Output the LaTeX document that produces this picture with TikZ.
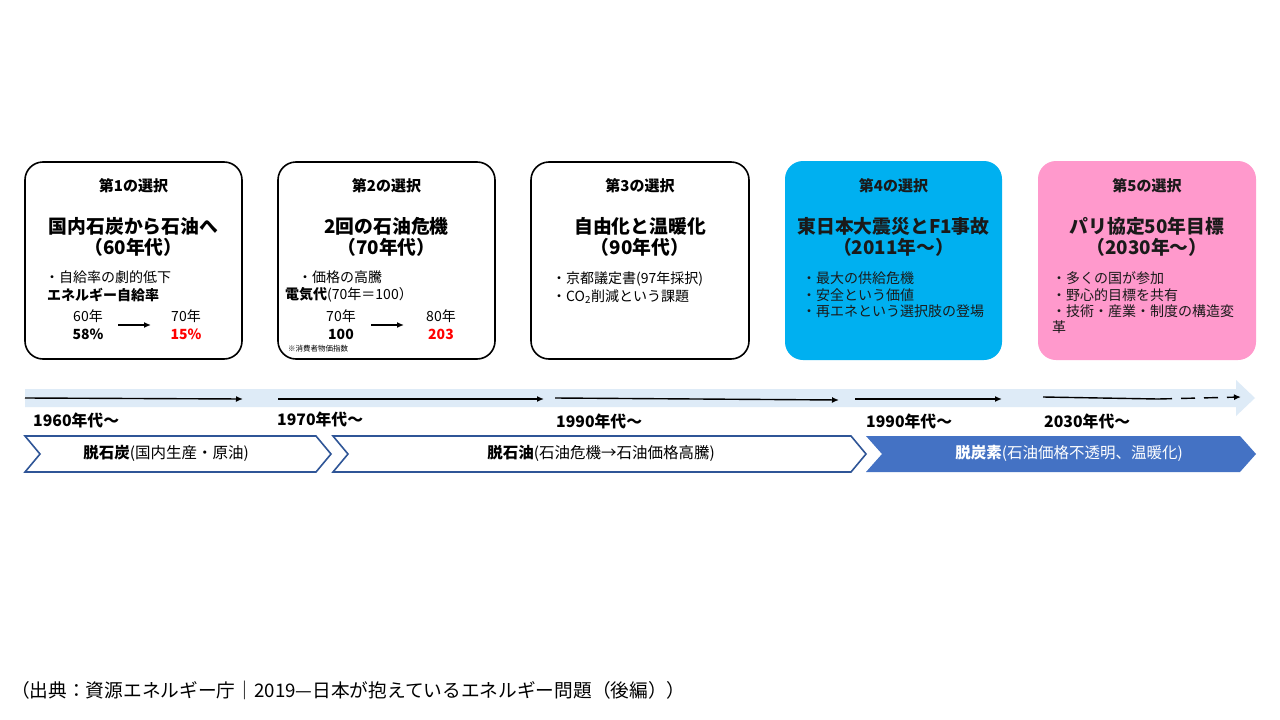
\documentclass[tikz,border=0pt]{standalone}
\usepackage{fontspec}
\setmainfont{Noto Sans CJK JP}
\usetikzlibrary{arrows.meta}
\definecolor{bandblue}{HTML}{DEEBF7}
\definecolor{cyanbox}{HTML}{00B0F0}
\definecolor{pinkbox}{HTML}{FF99CC}
\definecolor{chevline}{HTML}{2F5597}
\definecolor{chevfill}{HTML}{4472C4}
\definecolor{redtxt}{HTML}{FF0000}
\definecolor{darktxt}{HTML}{1A1A1A}
\tikzset{
  card/.style={draw=black, line width=1.6pt, rounded corners=18pt},
  cardfill/.style={rounded corners=18pt},
  head/.style={font=\fontsize{15}{17}\selectfont\bfseries, anchor=center, inner sep=0pt},
  ttl/.style={font=\fontsize{18.8}{21}\selectfont\bfseries, anchor=center, inner sep=0pt, align=center},
  bul/.style={font=\fontsize{14}{16}\selectfont, anchor=west, inner sep=0pt},
  bulb/.style={font=\fontsize{14}{16}\selectfont\bfseries, anchor=west, inner sep=0pt},
  num/.style={font=\fontsize{14}{16}\selectfont, anchor=center, inner sep=0pt},
  numb/.style={font=\fontsize{14}{16}\selectfont\bfseries, anchor=center, inner sep=0pt},
  yr/.style={font=\fontsize{15.8}{18}\selectfont\bfseries, anchor=west, inner sep=0pt},
  chevtxt/.style={font=\fontsize{15.5}{18}\selectfont, anchor=center, inner sep=0pt},
  tl/.style={line width=1.4pt, -{Latex[length=7pt,width=6pt]}},
  smallarr/.style={line width=1.3pt, -{Latex[length=7pt,width=6pt]}},
}
\begin{document}
\begin{tikzpicture}[x=1pt,y=-1pt]
\useasboundingbox (0,0) rectangle (1280,720);
\fill[white] (0,0) rectangle (1280,720);

% cards
\draw[card, fill=white] (25,162) rectangle (242,359);
\draw[card, fill=white] (278,162) rectangle (495,359);
\draw[card, fill=white] (531,162) rectangle (749,359);
\fill[cardfill, fill=cyanbox] (785,161) rectangle (1002,360);
\fill[cardfill, fill=pinkbox] (1038,161) rectangle (1256,360);

% card 1
\node[head] (h1) at (133.5,186) {第1の選択};
\node[ttl] (t1) at (133.5,236.5) {国内石炭から石油へ\\（60年代）};
\node[bul] (b1a) at (45,277) {・自給率の劇的低下};
\node[bulb] (b1b) at (47,295) {エネルギー自給率};
\node[num] (y1a) at (88,316) {60年};
\node[numb] (v1a) at (88,334) {58\%};
\node[num] (y1b) at (186,316) {70年};
\node[numb, text=redtxt] (v1b) at (186,334) {15\%};
\coordinate (a1s) at (118,325);
\coordinate (a1e) at (151,325);
\draw[smallarr] (a1s) -- (a1e);

% card 2
\node[head] (h2) at (386.5,186) {第2の選択};
\node[ttl] (t2) at (386.5,236.5) {2回の石油危機\\（70年代）};
\node[bul] (b2a) at (298,277) {・価格の高騰};
\node[bul] (b2b) at (285,295) {\textbf{電気代}(70年＝100）};
\node[num] (y2a) at (341,316) {70年};
\node[numb] (v2a) at (341,334) {100};
\node[num] (y2b) at (441,316) {80年};
\node[numb, text=redtxt] (v2b) at (441,334) {203};
\coordinate (a2s) at (371,325);
\coordinate (a2e) at (404,325);
\draw[smallarr] (a2s) -- (a2e);
\node[font=\fontsize{7.5}{9}\selectfont, anchor=west, inner sep=0pt] (n2) at (288,349) {※消費者物価指数};

% card 3
\node[head] (h3) at (640,186) {第3の選択};
\node[ttl] (t3) at (640,236.5) {自由化と温暖化\\（90年代）};
\node[bul] (b3a) at (552,279) {・京都議定書(97年採択)};
\node[bul] (b3b) at (552,297) {・CO\textsubscript{2}削減という課題};

% card 4
\node[head, text=darktxt] (h4) at (893.5,186) {第4の選択};
\node[ttl, text=darktxt] (t4) at (893.5,236.5) {東日本大震災とF1事故\\（2011年～）};
\node[bul, text=darktxt] (b4a) at (802,278) {・最大の供給危機};
\node[bul, text=darktxt] (b4b) at (802,295) {・安全という価値};
\node[bul, text=darktxt] (b4c) at (802,311) {・再エネという選択肢の登場};

% card 5
\node[head, text=darktxt] (h5) at (1147,186) {第5の選択};
\node[ttl, text=darktxt] (t5) at (1147,236.5) {パリ協定50年目標\\（2030年～）};
\node[bul, text=darktxt] (b5a) at (1052,278) {・多くの国が参加};
\node[bul, text=darktxt] (b5b) at (1052,295) {・野心的目標を共有};
\node[bul, text=darktxt] (b5c) at (1052,311) {・技術・産業・制度の構造変};
\node[bul, text=darktxt] (b5d) at (1052,327) {革};

% timeline band
\fill[bandblue] (25,389) -- (1236,389) -- (1236,380) -- (1255,398) -- (1236,416) -- (1236,407) -- (25,407) -- cycle;

\coordinate (l1s) at (25,398);   \coordinate (l1e) at (243,399);
\coordinate (l2s) at (278,399);  \coordinate (l2e) at (544,399);
\coordinate (l3s) at (555,398);  \coordinate (l3e) at (839,400);
\coordinate (l4s) at (855,399);  \coordinate (l4e) at (1002,399);
\coordinate (l5s) at (1043,397); \coordinate (l5m) at (1158,399);
\coordinate (l5e) at (1241,397);
\draw[tl] (l1s) -- (l1e);
\draw[tl] (l2s) -- (l2e);
\draw[tl] (l3s) -- (l3e);
\draw[tl] (l4s) -- (l4e);
\draw[line width=1.4pt] (l5s) -- (l5m);
\draw[tl, dash pattern=on 14pt off 9pt] (l5m) -- (l5e);

% year labels
\node[yr] (yr1) at (33,420) {1960年代～};
\node[yr] (yr2) at (277,419) {1970年代～};
\node[yr] (yr3) at (556,421) {1990年代～};
\node[yr] (yr4) at (866,421) {1990年代～};
\node[yr] (yr5) at (1044,421) {2030年代～};

% chevrons
\draw[chevline, line width=1.6pt, fill=white, line join=miter]
  (25,436) -- (316,436) -- (331,454) -- (316,472) -- (25,472) -- (40,454) -- cycle;
\draw[chevline, line width=1.6pt, fill=white, line join=miter]
  (333,436) -- (851,436) -- (866,454) -- (851,472) -- (333,472) -- (348,454) -- cycle;
\fill[chevfill]
  (866,436) -- (1240,436) -- (1256,454) -- (1240,472) -- (866,472) -- (882,454) -- cycle;
\node[chevtxt] (c1) at (166,453) {\textbf{脱石炭}(国内生産・原油)};
\node[chevtxt] (c2) at (601,453) {\textbf{脱石油}(石油危機→石油価格高騰)};
\node[chevtxt, text=white] (c3) at (1069,453) {\textbf{脱炭素}(石油価格不透明、温暖化)};

% footer
\node[font=\fontsize{18.7}{21}\selectfont, anchor=west, inner sep=0pt] (src) at (11,690) {（出典：資源エネルギー庁｜2019—日本が抱えているエネルギー問題（後編））};
\end{tikzpicture}
\end{document}
